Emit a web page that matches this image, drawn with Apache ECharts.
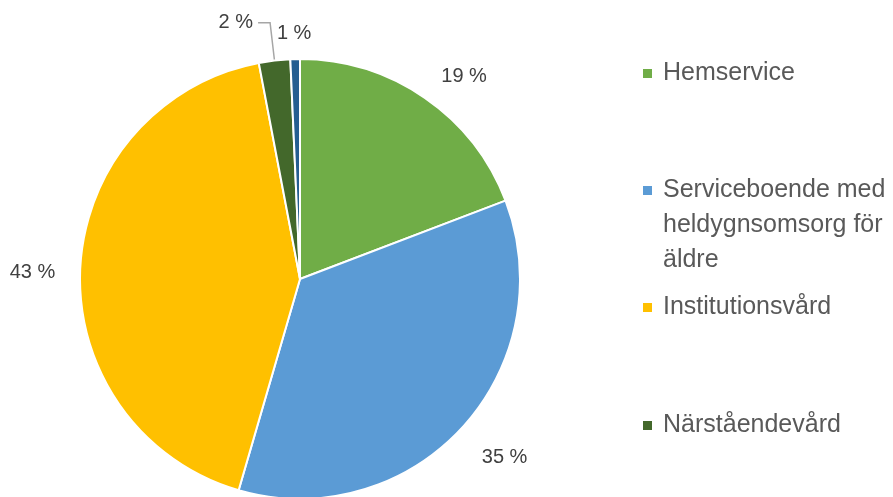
<!DOCTYPE html>
<html>
<head>
<meta charset="utf-8">
<script src="https://cdn.jsdelivr.net/npm/echarts@6/dist/echarts.min.js"></script>
<style>
html, body { margin: 0; padding: 0; background: #fff; }
#chart { width: 893px; height: 497px; }
</style>
</head>
<body>
<div id="chart"></div>
<script>
// ----------- 数据 -----------
var categories = ['Hemservice', 'Serviceboende med heldygnsomsorg för äldre', 'Institutionsvård', 'Närståendevård', 'Övrigt']
var values = [19.2, 35.3, 42.5, 2.3, 0.7]
var colorList = ['#70AD47', '#5B9BD5', '#FFC000', '#43682B', '#255E91']
// legend text (line breaks as in the picture)
var legendText = {
    'Hemservice': 'Hemservice',
    'Serviceboende med heldygnsomsorg för äldre': 'Serviceboende med\nheldygnsomsorg för\näldre',
    'Institutionsvård': 'Institutionsvård',
    'Närståendevård': 'Närståendevård'
}
var legendTop = [56, 173, 290, 408]
// small nudges of the percent labels (dx, dy)
var labelShift = [[-12, -9], [-11, 19], [5, 5], [0, 0], [126, -11]]

var font = 'Liberation Sans'

var pie_data = categories.map(function (name, i) {
    var item = { name: name, value: values[i], itemStyle: { color: colorList[i] } }
    if (i == 3) {
        item.labelLine = { show: true, length: 38, length2: 12 }
    }
    return item
})

// 图例: 每项单独放置
var legends = []
for (var i = 0; i < 4; i++) {
    var lines = legendText[categories[i]].split('\n').length
    var h = 11 + (lines - 1) * 35
    legends.push({
        data: [categories[i]],
        left: 641,
        top: legendTop[i],
        padding: 0,
        // square at the top of a tall icon box, so it sits on the first text line
        icon: lines > 1 ? 'path://M0,0h11v11h-11z M0,' + h : 'rect',
        itemWidth: 11,
        itemHeight: h,
        selectedMode: false,
        formatter: function (name) { return legendText[name] },
        textStyle: {
            fontFamily: font,
            fontSize: 25,
            color: '#595959',
            lineHeight: 35,
            padding: [0, 0, 0, 5]
        }
    })
}

var chart = echarts.init(document.getElementById('chart'))
var option = {
    animation: false,
    legend: legends,
    series: [{
        type: 'pie',
        center: [300, 279],
        radius: 220,
        startAngle: 90,
        clockwise: true,
        data: pie_data,
        itemStyle: { borderColor: '#fff', borderWidth: 2 },
        emphasis: { disabled: true },
        label: {
            show: true,
            position: 'outside',
            overflow: 'none',
            fontFamily: font,
            fontSize: 20,
            color: '#404040',
            formatter: function (p) { return Math.round(p.percent) + ' %' }
        },
        labelLine: {
            show: false,
            length: 15,
            length2: 15,
            lineStyle: { color: '#A6A6A6', width: 1.5 }
        },
        labelLayout: function (params) {
            var s = labelShift[params.dataIndex]
            return { dx: s[0], dy: s[1] }
        }
    }]
}
chart.setOption(option)
</script>
</body>
</html>
